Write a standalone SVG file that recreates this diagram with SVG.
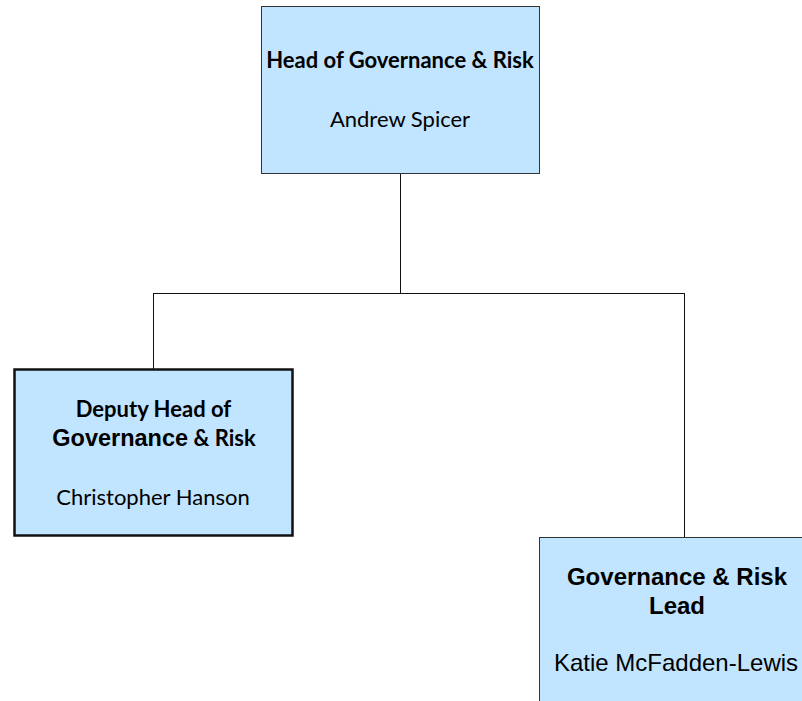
<svg xmlns="http://www.w3.org/2000/svg" width="802" height="701" viewBox="0 0 802 701">
<style>
.box{fill:#C1E4FF;stroke:#333;stroke-width:1}
.thick{stroke:#111;stroke-width:2.5}
.c{font-family:Lato,"Open Sans",sans-serif;font-size:22px;fill:#000;text-anchor:middle}
.a{font-family:"Liberation Sans",Arial,sans-serif;fill:#000;text-anchor:middle}
.b{font-weight:bold}
.conn{stroke:#111;stroke-width:1;fill:none}
</style>
<rect width="802" height="701" fill="#fff"/>
<g id="connectors">
<path class="conn" d="M400.5,173 V293.5 M153.5,293.5 H685 M153.5,293 V369 M684.5,293 V537"/>
</g>
<g id="head">
<rect class="box" x="261.5" y="6.5" width="278" height="167"/>
<text class="c b" x="400" y="68">Head of Governance &amp; Risk</text>
<text class="c" x="400" y="127">Andrew Spicer</text>
</g>
<g id="deputy">
<rect class="box thick" x="14.5" y="369.5" width="278" height="166"/>
<text class="c b" x="153.5" y="417">Deputy Head of</text>
<text class="c b" x="154" y="446"><tspan class="a b" style="font-size:23.5px">Governance</tspan> &amp; Risk</text>
<text class="c" x="153" y="505">Christopher Hanson</text>
</g>
<g id="lead">
<rect class="box" x="539.5" y="537.5" width="290" height="170"/>
<text class="a b" style="font-size:24px" x="677" y="585">Governance &amp; Risk</text>
<text class="a b" style="font-size:24px" x="677" y="614">Lead</text>
<text class="a" style="font-size:24px" x="676" y="671">Katie McFadden-Lewis</text>
</g>
</svg>
